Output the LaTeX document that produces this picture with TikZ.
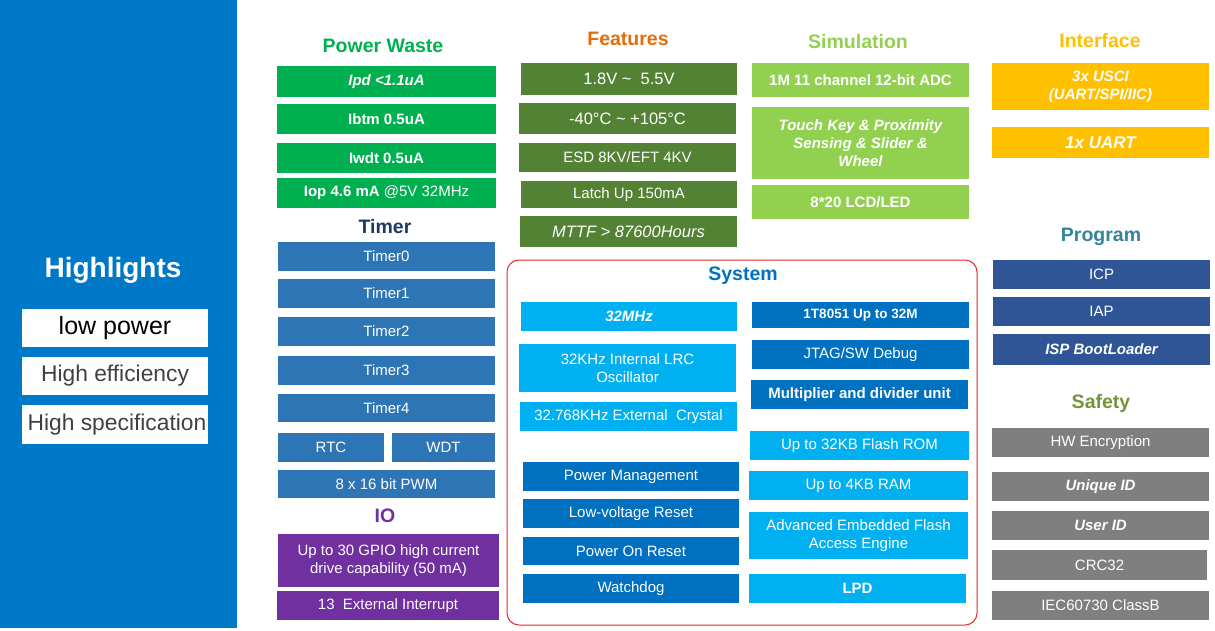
\documentclass[tikz,border=0pt]{standalone}
\usepackage{fontspec}
\setmainfont{Liberation Sans}

\definecolor{hlblue}{HTML}{0078C8}
\definecolor{hlgray}{HTML}{404040}
\definecolor{pwgreen}{HTML}{00B050}
\definecolor{ftgreen}{HTML}{548235}
\definecolor{ftorange}{HTML}{E46C0A}
\definecolor{simgreen}{HTML}{92D050}
\definecolor{ifyellow}{HTML}{FFC000}
\definecolor{tmblue}{HTML}{2E75B6}
\definecolor{tmnavy}{HTML}{1F3864}
\definecolor{iopurple}{HTML}{7030A0}
\definecolor{sysdark}{HTML}{0070C0}
\definecolor{syslight}{HTML}{00B0F0}
\definecolor{sysred}{HTML}{E3262E}
\definecolor{pgblue}{HTML}{2F5597}
\definecolor{pgteal}{HTML}{31849B}
\definecolor{sfgray}{HTML}{7F7F7F}
\definecolor{sfolive}{HTML}{77933C}

\newcommand{\boxfont}{\fontsize{15}{18}\selectfont}
\newcommand{\bigboxfont}{\fontsize{16.5}{19}\selectfont}
\newcommand{\headfont}{\fontsize{19.5}{23}\selectfont\bfseries}
\newcommand{\hlfont}{\fontsize{22.8}{27}\selectfont}

\tikzset{
  box/.style={fill=#1, inner sep=0pt, text=white, align=center, font=\boxfont},
  hlbox/.style={fill=white, inner sep=0pt, text=hlgray, font=\hlfont},
  head/.style={text=#1, font=\headfont, anchor=base, inner sep=0pt},
  wh/.style 2 args={minimum width=#1, minimum height=#2}
}

\begin{document}
\begin{tikzpicture}[x=1pt, y=-1pt]
  \useasboundingbox (0,0) rectangle (1215,630);
  % highlights panel
  \fill[hlblue] (0,0) rectangle (237,628);
  \node[head=white, font=\fontsize{28}{32}\selectfont\bfseries] (hl) at (113,277) {Highlights};
  \node[hlbox, wh={186}{38}, text=black, font=\fontsize{25}{28}\selectfont] (lowp) at (115,328) {low power};
  \node[hlbox, wh={186}{38}] (effi) at (115,376) {High efficiency};
  \node[hlbox, wh={186}{39}] (spec) at (115,424.5) {\hspace*{4pt}High specification};

  % power waste
  \node[head=pwgreen] (pwh) at (383,52) {Power Waste};
  \node[box=pwgreen, wh={219}{31}] (ipd) at (386.5,81.5) {\textbf{\textit{Ipd <1.1uA}}};
  \node[box=pwgreen, wh={219}{30}] (ibtm) at (386.5,119) {\textbf{Ibtm 0.5uA}};
  \node[box=pwgreen, wh={219}{30}] (iwdt) at (386.5,158) {\textbf{Iwdt 0.5uA}};
  \node[box=pwgreen, wh={219}{30}] (iop) at (386.5,193) {\textbf{Iop 4.6 mA} @5V 32MHz};

  % timer
  \node[head=tmnavy] (tmh) at (385,233) {Timer};
  \node[box=tmblue, wh={217}{29}] (tm0) at (386.5,256.5) {Timer0};
  \node[box=tmblue, wh={217}{29}] (tm1) at (386.5,293.5) {Timer1};
  \node[box=tmblue, wh={217}{29}] (tm2) at (386.5,331.5) {Timer2};
  \node[box=tmblue, wh={217}{29}] (tm3) at (386.5,370.5) {Timer3};
  \node[box=tmblue, wh={217}{28}] (tm4) at (386.5,408) {Timer4};
  \node[box=tmblue, wh={106}{29}] (rtc) at (331,447.5) {RTC};
  \node[box=tmblue, wh={103}{29}] (wdt) at (443.5,447.5) {WDT};
  \node[box=tmblue, wh={217}{28}] (pwm) at (386.5,484) {8 x 16 bit PWM};

  % io
  \node[head=iopurple] (ioh) at (385,522) {IO};
  \node[box=iopurple, wh={221}{53}] (gpio) at (388.5,560.5) {Up to 30 GPIO high current\\drive capability (50 mA)};
  \node[box=iopurple, wh={222}{29}] (exti) at (388,605.5) {13\ \ External Interrupt};

  % features
  \node[head=ftorange] (fth) at (628,45) {Features};
  \node[box=ftgreen, wh={216}{32}, font=\bigboxfont] (volt) at (629,79) {1.8V \textasciitilde\ \ 5.5V};
  \node[box=ftgreen, wh={217}{31}, font=\bigboxfont] (temp) at (627.5,118.5) {-40°C \textasciitilde{} +105°C};
  \node[box=ftgreen, wh={217}{29}] (esd) at (627.5,157.5) {ESD 8KV/EFT 4KV};
  \node[box=ftgreen, wh={216}{27}] (latch) at (629,194.5) {Latch Up 150mA};
  \node[box=ftgreen, wh={217}{31}, font=\bigboxfont\itshape] (mttf) at (628.5,231.5) {MTTF > 87600Hours};

  % simulation
  \node[head=simgreen] (simh) at (858,48) {Simulation};
  \node[box=simgreen, wh={217}{34}, font=\boxfont\bfseries] (adc) at (860.5,80) {1M 11 channel 12-bit ADC};
  \node[box=simgreen, wh={217}{72}, font=\boxfont\bfseries\itshape] (touch) at (860.5,143) {Touch Key \& Proximity\\Sensing \& Slider \&\\Wheel};
  \node[box=simgreen, wh={217}{34}, font=\boxfont\bfseries] (lcd) at (860.5,202) {8*20 LCD/LED};

  % interface
  \node[head=ifyellow] (ifh) at (1100,47) {Interface};
  \node[box=ifyellow, wh={217}{47}, font=\boxfont\bfseries\itshape] (usci) at (1100.5,86.5) {3x USCI\\(UART/SPI/IIC)};
  \node[box=ifyellow, wh={217}{31}, font=\fontsize{17}{20}\selectfont\bfseries\itshape] (uart) at (1100.5,142.5) {1x UART};

  % program
  \node[head=pgteal] (pgh) at (1101,241) {Program};
  \node[box=pgblue, wh={217}{29}] (icp) at (1101.5,274.5) {ICP};
  \node[box=pgblue, wh={217}{29}] (iap) at (1101.5,311.5) {IAP};
  \node[box=pgblue, wh={217}{31}, font=\boxfont\bfseries\itshape] (isp) at (1101.5,349.5) {ISP BootLoader};

  % safety
  \node[head=sfolive] (sfh) at (1101,408) {Safety};
  \node[box=sfgray, wh={217}{29}] (hwenc) at (1100.5,442.5) {HW Encryption};
  \node[box=sfgray, wh={217}{29}, font=\boxfont\bfseries\itshape] (uid) at (1100.5,486.5) {Unique ID};
  \node[box=sfgray, wh={217}{29}, font=\boxfont\bfseries\itshape] (usid) at (1100.5,525.5) {User ID};
  \node[box=sfgray, wh={215}{30}] (crc) at (1099.5,565) {CRC32};
  \node[box=sfgray, wh={217}{29}] (iec) at (1100.5,605.5) {IEC60730 ClassB};

  % system
  \draw[sysred, line width=1pt, rounded corners=12] (507,260) rectangle (977,625);
  \node[head=sysdark] (sysh) at (743,280) {System};
  \node[box=syslight, wh={216}{29}, font=\boxfont\bfseries\itshape] (hrc) at (629,316.5) {32MHz};
  \node[box=syslight, wh={217}{48}] (lrc) at (627.5,368) {32KHz Internal LRC\\Oscillator};
  \node[box=syslight, wh={217}{29}] (xtal) at (628.5,416.5) {32.768KHz External\ \ Crystal};
  \node[box=sysdark, wh={216}{29}] (pmu) at (631,476.5) {Power Management};
  \node[box=sysdark, wh={216}{29}] (lvr) at (631,513.5) {Low-voltage Reset};
  \node[box=sysdark, wh={216}{28}] (por) at (631,551) {Power On Reset};
  \node[box=sysdark, wh={216}{29}] (wdog) at (631,588.5) {Watchdog};
  \node[box=sysdark, wh={217}{26}, font=\fontsize{13.5}{16}\selectfont\bfseries] (core) at (860.5,315) {1T8051 Up to 32M};
  \node[box=sysdark, wh={217}{29}] (jtag) at (860.5,354.5) {JTAG/SW Debug};
  \node[box=sysdark, wh={217}{29}, font=\boxfont\bfseries] (mdu) at (859.5,394.5) {Multiplier and divider unit};
  \node[box=syslight, wh={219}{29}] (flash) at (859.5,445.5) {Up to 32KB Flash ROM};
  \node[box=syslight, wh={219}{29}] (ram) at (858.5,485.5) {Up to 4KB RAM};
  \node[box=syslight, wh={219}{47}] (aefa) at (858.5,535.5) {Advanced Embedded Flash\\Access Engine};
  \node[box=syslight, wh={217}{29}, font=\boxfont\bfseries] (lpd) at (857.5,588.5) {LPD};
\end{tikzpicture}
\end{document}
